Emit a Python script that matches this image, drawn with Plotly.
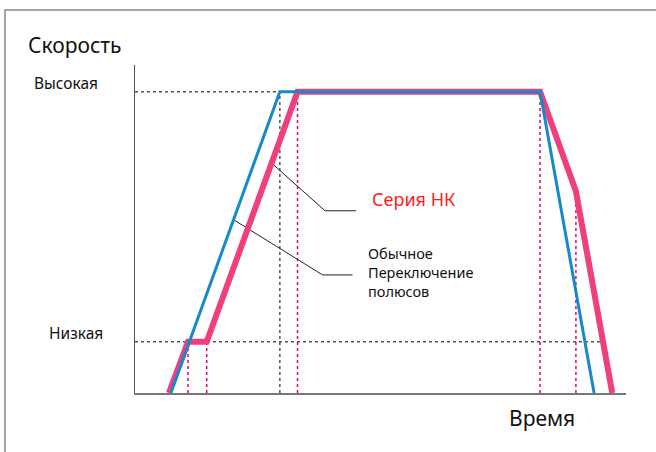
import plotly.graph_objects as go

# Speed levels (0 = stop, 100 = high)
SPEED_HIGH = 100
SPEED_LOW = 17

# Conventional pole switching (blue)
conv_t = [7.3, 29.5, 82.5, 93.5]
conv_v = [0, 100, 100, 0]

# NK series (pink)
nk_t = [6.9, 10.8, 14.6, 33.1, 82.5, 89.8, 97.2]
nk_v = [0, 17, 17, 100, 100, 67, 0]

# guide lines
gray_vert_t = [29.5]
gray_vert_top = [100]
pink_vert_t = [10.8, 14.6, 33.1, 82.5, 89.8]
pink_vert_top = [17, 17, 100, 100, 67]
high_guide_t = [0, 29.5]
low_guide_t = [0, 94.7]

# leader lines
lead_nk_t = [27.9, 38.7, 45.0]
lead_nk_v = [76.2, 60.5, 60.5]
lead_conv_t = [20.0, 38.2, 44.3]
lead_conv_v = [57.6, 39.2, 39.2]

BLUE = "#1689CB"
PINK = "#EF3F7D"
MAGENTA = "#E6007E"
GRAY = "#555555"
FONT = "Noto Sans"

fig = go.Figure()

def seg(x, y, color, width, dash=None):
    fig.add_trace(go.Scatter(x=x, y=y, mode="lines",
                             line=dict(color=color, width=width, dash=dash),
                             hoverinfo="skip", showlegend=False))

# horizontal guides
seg(high_guide_t, [SPEED_HIGH, SPEED_HIGH], GRAY, 1.5, "dot")
seg(low_guide_t, [SPEED_LOW, SPEED_LOW], GRAY, 1.5, "dot")
for t, top in zip(gray_vert_t, gray_vert_top):
    seg([t, t], [0, top], GRAY, 1.5, "dot")
for t, top in zip(pink_vert_t, pink_vert_top):
    seg([t, t], [0, top], MAGENTA, 1.5, "dot")

# leader lines
seg(lead_nk_t, lead_nk_v, "#222222", 1)
seg(lead_conv_t, lead_conv_v, "#222222", 1)

# main curves
seg(nk_t, nk_v, PINK, 6)
seg(conv_t, conv_v, BLUE, 3)

L, R, T, B = 135, 30, 65, 59
W, H = 656, 452
pw, ph = W - L - R, H - T - B

def px(x):
    return (x - L) / pw

def py(y):
    return (H - B - y) / ph

annots = [
    dict(text="Скорость", x=px(26), y=py(45), xanchor="left", size=21, color="#111111"),
    dict(text="Высокая", x=px(66), y=py(83), xanchor="center", size=15.5, color="#111111"),
    dict(text="Низкая", x=px(76), y=py(333), xanchor="center", size=15.5, color="#111111"),
    dict(text="Время", x=px(542), y=py(418), xanchor="center", size=21, color="#111111"),
    dict(text="Серия НК", x=px(370), y=py(199), xanchor="left", size=18, color="#FF1A1A"),
    dict(text="Обычное<br>Переключение<br>полюсов", x=px(366), y=py(272),
         xanchor="left", size=14.5, color="#111111"),
]
for a in annots:
    fig.add_annotation(text=a["text"], x=a["x"], y=a["y"], xref="paper", yref="paper",
                       xanchor=a["xanchor"], yanchor="middle", showarrow=False, align="left",
                       font=dict(family=FONT, size=a["size"], color=a["color"]))

# outer frame
fig.add_shape(type="rect", xref="paper", yref="paper",
              x0=px(5), y0=py(470), x1=px(680), y1=py(10),
              line=dict(color="#888888", width=1.5), fillcolor="rgba(0,0,0,0)", layer="below")

fig.update_layout(
    width=W, height=H,
    margin=dict(l=L, r=R, t=T, b=B),
    paper_bgcolor="white", plot_bgcolor="white",
    xaxis=dict(range=[0, 100], showgrid=False, zeroline=False, showticklabels=False,
               ticks="", showline=True, linecolor="#777777", linewidth=2),
    yaxis=dict(range=[0, 108.9], showgrid=False, zeroline=False, showticklabels=False,
               ticks="", showline=True, linecolor="#555555", linewidth=1),
    font=dict(family=FONT),
)

fig.write_html("out.html", config={"displayModeBar": False},
               post_script="document.body.style.margin='0';document.body.style.overflow='hidden';")
